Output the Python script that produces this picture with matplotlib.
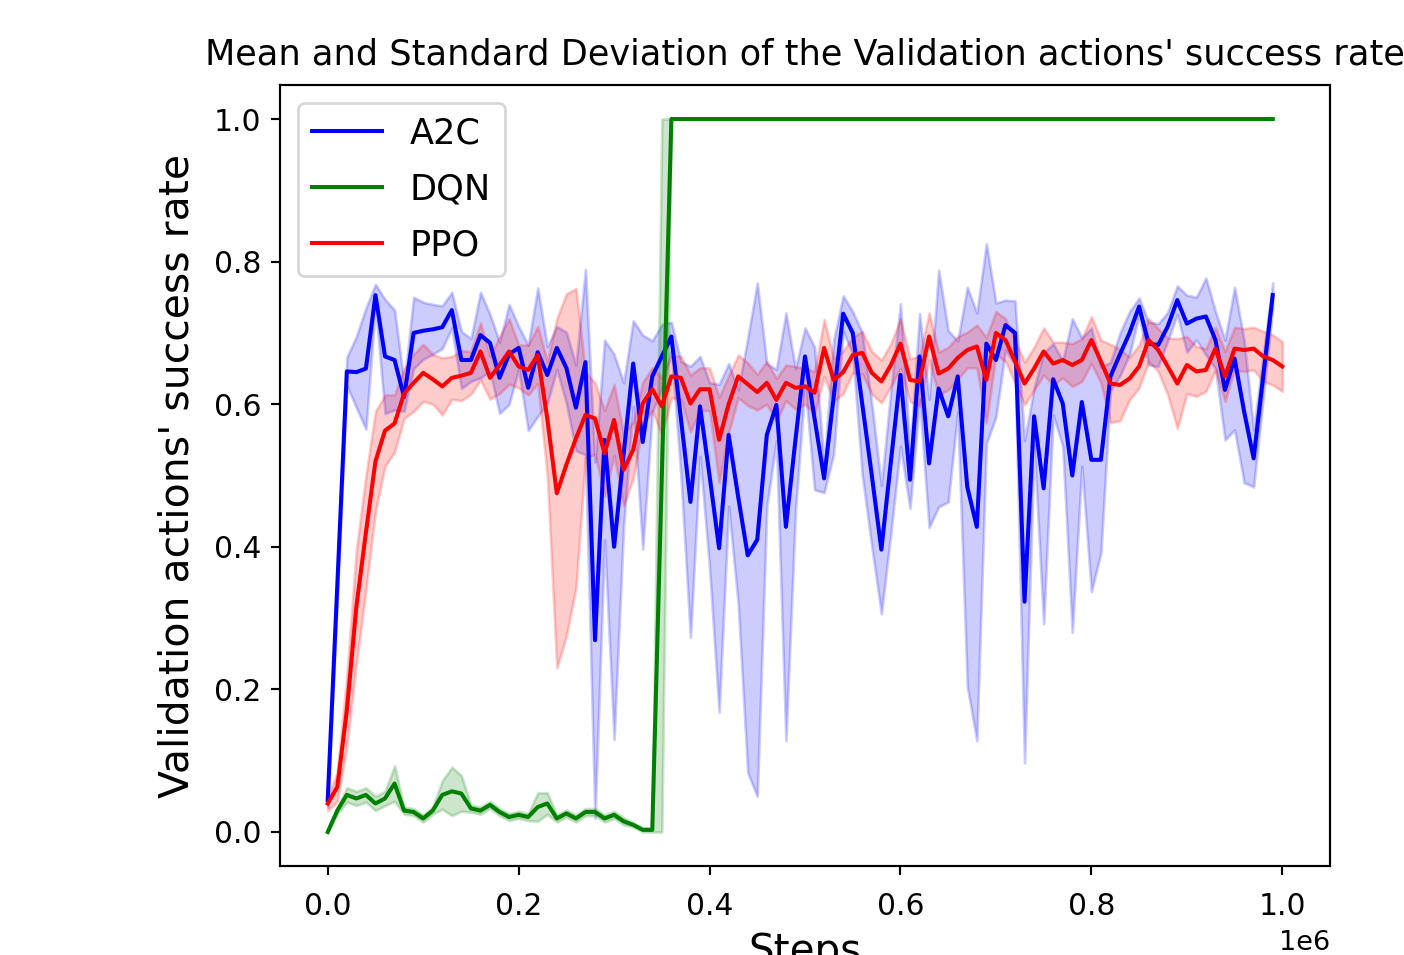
import numpy as np
import matplotlib
matplotlib.use("Agg")
import matplotlib.pyplot as plt

# ---- data ----
a2c_steps = np.arange(0, 1_000_000, 10_000)          # 0 .. 0.99e6
dqn_steps = np.arange(0, 1_000_000, 10_000)          # 0 .. 0.99e6
ppo_steps = np.arange(0, 1_010_000, 10_000)          # 0 .. 1.0e6

a2c_mean = [0.045, 0.345, 0.646, 0.645, 0.650, 0.753, 0.667, 0.662, 0.610, 0.700,
            0.703, 0.705, 0.708, 0.732, 0.662, 0.662, 0.697, 0.686, 0.637, 0.670,
            0.679, 0.623, 0.673, 0.641, 0.679, 0.651, 0.595, 0.659, 0.269, 0.550,
            0.400, 0.530, 0.657, 0.547, 0.639, 0.667, 0.695, 0.580, 0.463, 0.597,
            0.500, 0.398, 0.557, 0.470, 0.388, 0.410, 0.557, 0.599, 0.428, 0.550,
            0.667, 0.580, 0.496, 0.610, 0.727, 0.700, 0.600, 0.500, 0.396, 0.520,
            0.641, 0.494, 0.667, 0.517, 0.622, 0.583, 0.639, 0.484, 0.428, 0.685,
            0.662, 0.711, 0.700, 0.323, 0.583, 0.482, 0.635, 0.601, 0.500, 0.603,
            0.522, 0.522, 0.639, 0.670, 0.700, 0.737, 0.685, 0.683, 0.709, 0.746,
            0.713, 0.720, 0.723, 0.690, 0.620, 0.664, 0.590, 0.524, 0.639, 0.753]
a2c_std = [0.010, 0.020, 0.020, 0.050, 0.085, 0.015, 0.080, 0.070, 0.020, 0.050,
           0.040, 0.035, 0.030, 0.025, 0.040, 0.030, 0.060, 0.040, 0.050, 0.070,
           0.030, 0.060, 0.090, 0.040, 0.030, 0.050, 0.060, 0.130, 0.250, 0.140,
           0.270, 0.100, 0.060, 0.150, 0.050, 0.045, 0.020, 0.080, 0.190, 0.070,
           0.130, 0.230, 0.100, 0.150, 0.305, 0.360, 0.100, 0.050, 0.300, 0.100,
           0.040, 0.100, 0.020, 0.080, 0.025, 0.030, 0.100, 0.100, 0.090, 0.100,
           0.100, 0.040, 0.060, 0.090, 0.166, 0.120, 0.050, 0.280, 0.300, 0.140,
           0.080, 0.035, 0.045, 0.226, 0.040, 0.190, 0.050, 0.060, 0.220, 0.090,
           0.185, 0.130, 0.020, 0.030, 0.030, 0.012, 0.030, 0.030, 0.020, 0.020,
           0.040, 0.030, 0.054, 0.040, 0.070, 0.100, 0.100, 0.040, 0.030, 0.017]

dqn_mean = [0.000, 0.030, 0.052, 0.047, 0.052, 0.040, 0.047, 0.068, 0.030, 0.028,
            0.019, 0.030, 0.052, 0.057, 0.054, 0.033, 0.030, 0.038, 0.028, 0.021,
            0.024, 0.021, 0.035, 0.040, 0.019, 0.026, 0.019, 0.028, 0.028, 0.019,
            0.024, 0.015, 0.010, 0.003, 0.003, 0.500] + [1.0] * 64
dqn_std = [0.000, 0.005, 0.010, 0.010, 0.010, 0.010, 0.010, 0.025, 0.005, 0.005,
           0.005, 0.005, 0.020, 0.034, 0.025, 0.005, 0.005, 0.005, 0.005, 0.005,
           0.005, 0.005, 0.020, 0.015, 0.005, 0.005, 0.005, 0.005, 0.005, 0.005,
           0.005, 0.005, 0.003, 0.003, 0.003, 0.500] + [0.0] * 64

ppo_mean = [0.040, 0.063, 0.170, 0.316, 0.420, 0.520, 0.563, 0.573, 0.615, 0.630,
            0.644, 0.635, 0.625, 0.637, 0.640, 0.644, 0.674, 0.637, 0.655, 0.674,
            0.653, 0.648, 0.669, 0.580, 0.475, 0.515, 0.552, 0.585, 0.580, 0.531,
            0.578, 0.508, 0.536, 0.601, 0.621, 0.597, 0.639, 0.637, 0.601, 0.621,
            0.621, 0.550, 0.600, 0.639, 0.628, 0.617, 0.630, 0.606, 0.630, 0.623,
            0.625, 0.616, 0.679, 0.634, 0.645, 0.669, 0.672, 0.644, 0.632, 0.655,
            0.685, 0.634, 0.632, 0.695, 0.643, 0.650, 0.665, 0.676, 0.681, 0.634,
            0.700, 0.690, 0.660, 0.629, 0.650, 0.674, 0.657, 0.662, 0.655, 0.662,
            0.690, 0.660, 0.629, 0.627, 0.636, 0.653, 0.690, 0.676, 0.653, 0.629,
            0.655, 0.646, 0.648, 0.678, 0.639, 0.678, 0.676, 0.678, 0.667, 0.662,
            0.653]
ppo_std = [0.010, 0.020, 0.050, 0.080, 0.080, 0.070, 0.050, 0.040, 0.035, 0.040,
           0.040, 0.035, 0.040, 0.030, 0.035, 0.030, 0.040, 0.030, 0.040, 0.046,
           0.030, 0.035, 0.040, 0.080, 0.245, 0.240, 0.210, 0.060, 0.050, 0.060,
           0.050, 0.050, 0.040, 0.030, 0.030, 0.040, 0.030, 0.030, 0.040, 0.030,
           0.030, 0.060, 0.040, 0.030, 0.030, 0.025, 0.030, 0.030, 0.025, 0.030,
           0.025, 0.030, 0.040, 0.030, 0.030, 0.025, 0.030, 0.030, 0.030, 0.030,
           0.035, 0.030, 0.035, 0.033, 0.030, 0.030, 0.030, 0.025, 0.030, 0.060,
           0.030, 0.030, 0.030, 0.030, 0.030, 0.033, 0.030, 0.025, 0.030, 0.030,
           0.033, 0.030, 0.055, 0.050, 0.030, 0.030, 0.030, 0.030, 0.040, 0.063,
           0.040, 0.035, 0.030, 0.030, 0.035, 0.030, 0.030, 0.030, 0.035, 0.035,
           0.035]

series = [("A2C", a2c_steps, a2c_mean, a2c_std, "blue"),
          ("DQN", dqn_steps, dqn_mean, dqn_std, "green"),
          ("PPO", ppo_steps, ppo_mean, ppo_std, "red")]

# ---- figure ----
DPI = 194.4
fig = plt.figure(figsize=(1404 / DPI, 955 / DPI), dpi=DPI)
ax = fig.add_axes([280 / 1404, 1 - 866 / 955, (1330 - 280) / 1404, (866 - 85) / 955])

for name, x, m, s, c in series:
    m = np.asarray(m)
    s = np.asarray(s)
    ax.plot(x, m, color=c, label=name)
    ax.fill_between(x, m - s, m + s, color=c, alpha=0.2)

ax.set_ylim(-0.0477, 1.0477)
ax.tick_params(axis="both", labelsize=11)
ax.tick_params(axis="x", pad=6.3)
ax.set_title("Mean and Standard Deviation of the Validation actions' success rate",
             fontsize=13, pad=7.5)
ax.set_xlabel("Steps", fontsize=15)
ax.set_ylabel("Validation actions' success rate", fontsize=15.2, labelpad=6)
ax.legend(loc="upper left", fontsize=13, labelspacing=0.62)

fig.savefig("out.png", dpi=DPI)
